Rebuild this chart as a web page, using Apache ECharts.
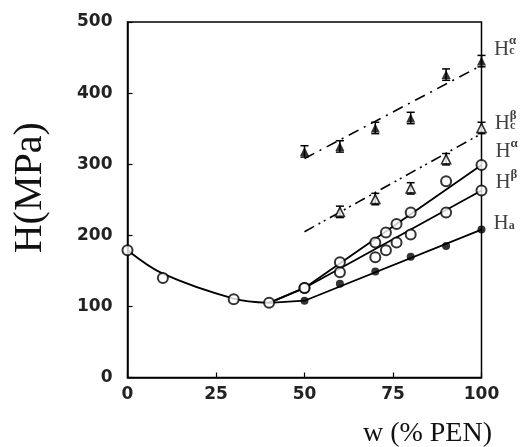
<!DOCTYPE html>
<html>
<head>
<meta charset="utf-8">
<script src="https://cdn.jsdelivr.net/npm/echarts@6/dist/echarts.min.js"></script>
<style>
  html, body { margin: 0; padding: 0; background: #fff; }
  #chart { width: 523px; height: 447px; }
</style>
</head>
<body>
<div id="chart"></div>
<script>
// ticks
var xTicks = [0, 25, 50, 75, 100];
var yTicks = [0, 100, 200, 300, 400, 500];

// measured points
var wLeft = [0, 10, 30, 40];
var hLeft = [179, 140, 110, 105];
var wHa = [50, 60, 70, 80, 90, 100];
var hHa = [108, 132, 149, 170, 185, 208];
var wHab = [50, 60, 70, 73, 76, 80, 90, 100];
var hBeta = [126, 148, 169, 179, 190, 201, 232, 263];
var hAlpha = [126, 162, 190, 204, 216, 232, 276, 299];
var wCa = [50, 60, 70, 80, 90, 100];
var hCa = [318, 325, 351, 365, 426, 445];
var wCb = [60, 70, 80, 90, 100];
var hCb = [233, 251, 266, 307, 351];
var errC = 8;

// drawn curves
var curveW = [0, 10, 30, 40];
var curveH = [179, 146, 111, 105];
var fitW = [40, 50, 100];
var haFit = [105, 108, 208];
var betaFit = [105, 126, 263];
var alphaFit = [105, 126, 299];
var cFitW = [50, 100];
var caFit = [308, 439];
var cbFit = [205, 343];

function pairs(xs, ys) {
  var out = [];
  for (var i = 0; i < xs.length; i++) out.push([xs[i], ys[i]]);
  return out;
}

var serif = 'Liberation Serif';
var rich = {
  H: { fontFamily: serif, fontSize: 21, color: '#111', lineHeight: 16 },
  sp: { width: 15, lineHeight: 0 },
  sup: { fontFamily: serif, fontSize: 13, fontWeight: 'bold', color: '#111', lineHeight: 0 },
  sub: { fontFamily: serif, fontSize: 12, fontWeight: 'bold', color: '#111', lineHeight: 16, verticalAlign: 'bottom', padding: [7, 0, 0, 0] }
};

function lastLabel(n, text, dy) {
  return {
    show: true,
    position: 'right',
    distance: 8,
    offset: [0, dy],
    rich: rich,
    formatter: function (p) { return p.dataIndex === n - 1 ? text : ''; }
  };
}

var openCircle = { color: '#fff', borderColor: '#000', borderWidth: 2 };

function errItem(params, api) {
  var x = api.value(0), y = api.value(1), e = api.value(2);
  var top = api.coord([x, y + e]);
  var bot = api.coord([x, y - e]);
  var hw = 4;
  var st = { stroke: '#000', lineWidth: 1.5 };
  return {
    type: 'group',
    children: [
      { type: 'line', shape: { x1: top[0], y1: top[1], x2: bot[0], y2: bot[1] }, style: st },
      { type: 'line', shape: { x1: top[0] - hw, y1: top[1], x2: top[0] + hw, y2: top[1] }, style: st },
      { type: 'line', shape: { x1: bot[0] - hw, y1: bot[1], x2: bot[0] + hw, y2: bot[1] }, style: st }
    ]
  };
}

function errData(xs, ys) {
  var out = [];
  for (var i = 0; i < xs.length; i++) out.push([xs[i], ys[i], errC]);
  return out;
}

var tickFont = { fontFamily: 'DejaVu Sans', fontWeight: 'bold', fontSize: 17, color: '#222' };

var myChart = echarts.init(document.getElementById('chart'));
myChart.setOption({
  animation: false,
  title: {
    text: 'w (% PEN)',
    right: 26,
    top: 415,
    textStyle: { fontFamily: serif, fontSize: 28, fontWeight: 'normal', color: '#111' }
  },
  grid: {
    left: 127.5, right: 41.5, top: 22, bottom: 69.5,
    show: true, borderColor: '#000', borderWidth: 1.5
  },
  xAxis: {
    type: 'value',
    min: xTicks[0], max: xTicks[xTicks.length - 1], interval: 25,
    axisLine: { lineStyle: { color: '#000', width: 1.5 } },
    axisTick: { inside: true, length: 5, lineStyle: { color: '#000', width: 1.2 } },
    axisLabel: Object.assign({ margin: 9 }, tickFont),
    splitLine: { show: false }
  },
  yAxis: {
    type: 'value',
    min: yTicks[0], max: yTicks[yTicks.length - 1], interval: 100,
    name: 'H(MPa)',
    nameLocation: 'middle',
    nameGap: 77,
    nameTextStyle: { fontFamily: serif, fontSize: 40, color: '#111', padding: [0, 0, 0, 24] },
    axisLine: { show: true, lineStyle: { color: '#000', width: 1.5 } },
    axisTick: { show: true, inside: true, length: 5, lineStyle: { color: '#000', width: 1.2 } },
    axisLabel: Object.assign({ margin: 15 }, tickFont),
    splitLine: { show: false }
  },
  series: [
    // curves
    { type: 'line', data: pairs(curveW, curveH), smooth: 0.35, symbol: 'none',
      lineStyle: { color: '#000', width: 1.8 } },
    { type: 'line', data: pairs(fitW, haFit), symbol: 'none', lineStyle: { color: '#000', width: 1.8 } },
    { type: 'line', data: pairs(fitW, betaFit), symbol: 'none', lineStyle: { color: '#000', width: 1.8 } },
    { type: 'line', data: pairs(fitW, alphaFit), symbol: 'none', lineStyle: { color: '#000', width: 1.8 } },
    { type: 'line', data: pairs(cFitW, caFit), symbol: 'none',
      lineStyle: { color: '#000', width: 1.6, type: [11, 6, 2, 6] } },
    { type: 'line', data: pairs(cFitW, cbFit), symbol: 'none',
      lineStyle: { color: '#000', width: 1.6, type: [11, 5, 2, 4, 2, 5] } },
    // error bars
    { type: 'custom', renderItem: errItem, data: errData(wCa, hCa), z: 3 },
    { type: 'custom', renderItem: errItem, data: errData(wCb, hCb), z: 3 },
    // markers
    { type: 'scatter', data: pairs(wLeft, hLeft), symbol: 'circle', symbolSize: 10, itemStyle: openCircle, z: 4 },
    { type: 'scatter', data: pairs(wHa, hHa), symbol: 'circle', symbolSize: 8, itemStyle: { color: '#000' }, z: 4,
      label: lastLabel(wHa.length, '{H|H}{sub|a}', -6) },
    { type: 'scatter', data: pairs(wHab, hBeta), symbol: 'circle', symbolSize: 10, itemStyle: openCircle, z: 4,
      label: lastLabel(wHab.length, '{sp|}{sup|β}\n{H|H}', -8) },
    { type: 'scatter', data: pairs(wHab, hAlpha), symbol: 'circle', symbolSize: 10, itemStyle: openCircle, z: 4,
      label: lastLabel(wHab.length, '{sp|}{sup|α}\n{H|H}', -13) },
    { type: 'scatter', data: pairs(wCa, hCa), symbol: 'triangle', symbolSize: 9, itemStyle: { color: '#000' }, z: 5,
      label: lastLabel(wCa.length, '{sp|}{sup|α}\n{H|H}{sub|c}', -12) },
    { type: 'scatter', data: pairs(wCb, hCb), symbol: 'triangle', symbolSize: 9,
      itemStyle: { color: '#fff', borderColor: '#000', borderWidth: 1.6 }, z: 5,
      label: lastLabel(wCb.length, '{sp|}{sup|β}\n{H|H}{sub|c}', -4) }
  ]
});
</script>
</body>
</html>
